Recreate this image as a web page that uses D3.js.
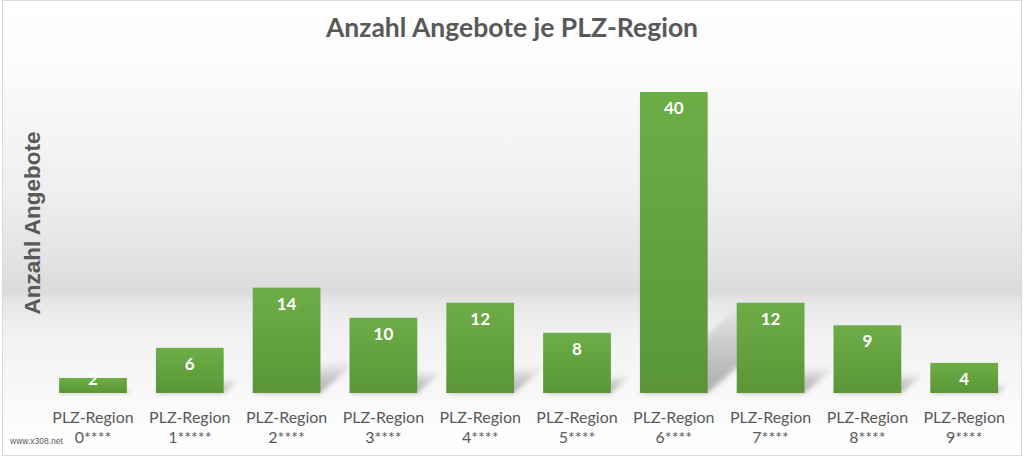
<!DOCTYPE html>
<html>
<head>
<meta charset="utf-8">
<script src="https://cdn.jsdelivr.net/npm/d3@7"></script>
<style>
  body { margin: 0; background: #fff; }
  svg { display: block; }
</style>
</head>
<body>
<div id="chart"></div>
<script>
// chart data
var regions = ["0****", "1*****", "2****", "3****", "4****", "5****", "6****", "7****", "8****", "9****"];
var angebote = [2, 6, 14, 10, 12, 8, 40, 12, 9, 4];

var width = 1024;
var height = 457;
var baseY = 393;

var svg = d3.select("#chart")
    .append("svg")
    .attr("width", width)
    .attr("height", height);

var defs = svg.append("defs");

// background with grey "horizon"
var bg = defs.append("linearGradient")
    .attr("id", "bgGrad")
    .attr("x1", 0).attr("y1", 0).attr("x2", 0).attr("y2", 1);
[[0, "#ffffff"], [0.13, "#fcfcfc"], [0.42, "#efefef"], [0.6, "#e0e0e0"], [0.64, "#dbdbdb"],
 [0.66, "#e6e6e6"], [0.73, "#f1f1f1"], [0.86, "#f8f8f8"], [1, "#ffffff"]].forEach(function (s) {
    bg.append("stop").attr("offset", s[0]).attr("stop-color", s[1]);
});

var barGrad = defs.append("linearGradient")
    .attr("id", "barGrad")
    .attr("x1", 0).attr("y1", 0).attr("x2", 0).attr("y2", 1);
barGrad.append("stop").attr("offset", 0).attr("stop-color", "#6dad46");
barGrad.append("stop").attr("offset", 1).attr("stop-color", "#5a9637");

var shGrad = defs.append("linearGradient")
    .attr("id", "shGrad")
    .attr("x1", 0).attr("y1", 1).attr("x2", 0).attr("y2", 0);
shGrad.append("stop").attr("offset", 0).attr("stop-color", "#000").attr("stop-opacity", 0.3);
shGrad.append("stop").attr("offset", 0.5).attr("stop-color", "#000").attr("stop-opacity", 0.18);
shGrad.append("stop").attr("offset", 1).attr("stop-color", "#000").attr("stop-opacity", 0);

defs.append("filter")
    .attr("id", "blur")
    .attr("x", "-50%").attr("y", "-50%").attr("width", "200%").attr("height", "200%")
    .append("feGaussianBlur")
    .attr("stdDeviation", 2.5);

svg.append("rect")
    .attr("x", 2.5).attr("y", 0.5)
    .attr("width", 1019).attr("height", 455)
    .attr("fill", "url(#bgGrad)")
    .attr("stroke", "#d9d9d9");

var xScale = d3.scaleBand()
    .domain(regions)
    .range([44.6, 1012.6])
    .paddingInner(0.3)
    .paddingOuter(0.15);

var yScale = d3.scaleLinear()
    .domain([0, 40])
    .range([baseY, 92]);

// perspective shadows behind the bars
svg.selectAll(".shadow")
    .data(regions)
    .enter()
    .append("polygon")
    .attr("class", "shadow")
    .attr("fill", "url(#shGrad)")
    .attr("filter", "url(#blur)")
    .attr("points", function (d, i) {
        var x0 = xScale(d);
        var x1 = x0 + xScale.bandwidth();
        var h = baseY - yScale(angebote[i]);
        var dy = h * 0.3;
        var dx = dy * 1.15;
        return [[x0, baseY], [x1, baseY], [x1 + dx, baseY - dy], [x0 + dx, baseY - dy]].join(" ");
    });

svg.selectAll(".bar")
    .data(regions)
    .enter()
    .append("rect")
    .attr("class", "bar")
    .attr("x", function (d) { return xScale(d); })
    .attr("y", function (d, i) { return yScale(angebote[i]); })
    .attr("width", xScale.bandwidth())
    .attr("height", function (d, i) { return baseY - yScale(angebote[i]); })
    .attr("fill", "url(#barGrad)");

// value labels
svg.selectAll(".value")
    .data(regions)
    .enter()
    .append("text")
    .attr("class", "value")
    .attr("x", function (d) { return xScale(d) + xScale.bandwidth() / 2; })
    .attr("y", function (d, i) { return Math.min(yScale(angebote[i]) + 22, baseY - 8); })
    .attr("text-anchor", "middle")
    .style("font-family", "Lato, 'Open Sans', sans-serif")
    .style("font-weight", "bold")
    .style("font-size", "17px")
    .style("fill", "#ffffff")
    .text(function (d, i) { return angebote[i]; });

// category labels (two lines)
var cat = svg.selectAll(".cat")
    .data(regions)
    .enter()
    .append("text")
    .attr("class", "cat")
    .attr("text-anchor", "middle")
    .style("font-family", "Lato, 'Open Sans', sans-serif")
    .style("font-size", "16px")
    .style("fill", "#595959");

cat.append("tspan")
    .attr("x", function (d) { return xScale(d) + xScale.bandwidth() / 2; })
    .attr("y", 423)
    .text("PLZ-Region");

cat.append("tspan")
    .attr("x", function (d) { return xScale(d) + xScale.bandwidth() / 2; })
    .attr("y", 443)
    .text(function (d) { return d; });

// title
svg.append("text")
    .attr("x", 512)
    .attr("y", 37)
    .attr("text-anchor", "middle")
    .style("font-family", "Lato, 'Open Sans', sans-serif")
    .style("font-weight", "bold")
    .style("font-size", "26.5px")
    .style("fill", "#595959")
    .text("Anzahl Angebote je PLZ-Region");

// y axis title
svg.append("text")
    .attr("transform", "translate(40,223) rotate(-90)")
    .attr("text-anchor", "middle")
    .style("font-family", "'Liberation Sans', Arial, sans-serif")
    .style("font-weight", "bold")
    .style("font-size", "22.5px")
    .style("fill", "#595959")
    .text("Anzahl Angebote");

// watermark
svg.append("text")
    .attr("x", 10)
    .attr("y", 444)
    .style("font-family", "'Liberation Sans', Arial, sans-serif")
    .style("font-size", "8.5px")
    .style("fill", "#595959")
    .text("www.x308.net");
</script>
</body>
</html>
